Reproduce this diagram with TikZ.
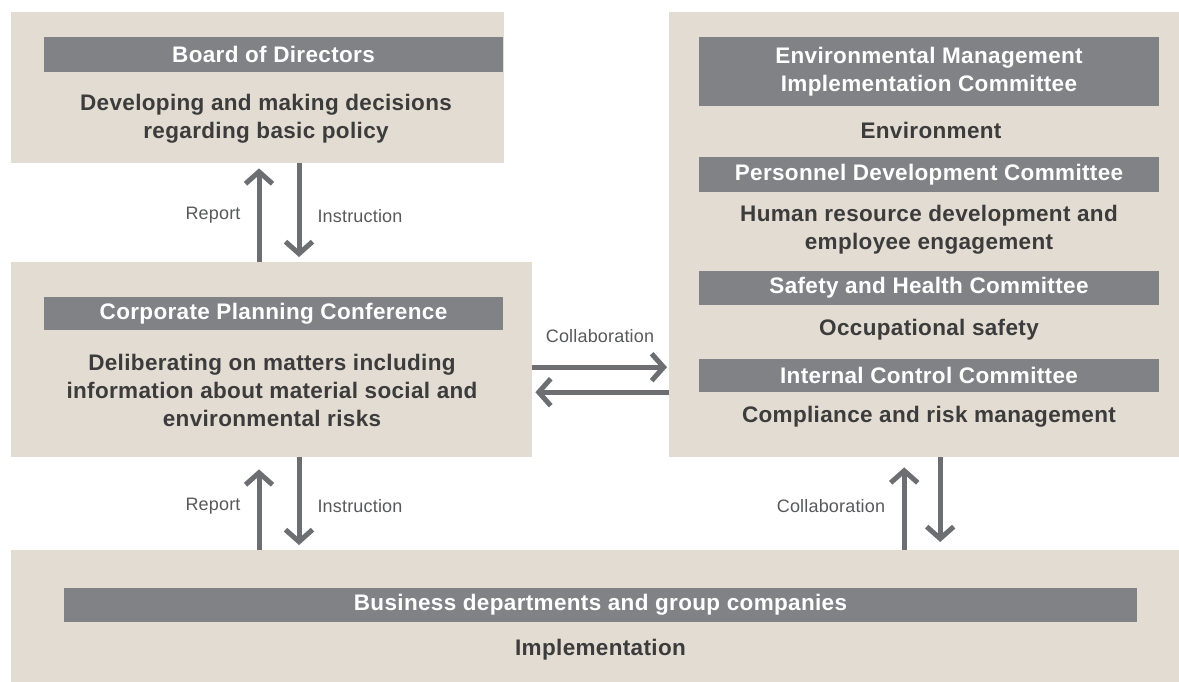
\documentclass[tikz,border=0pt]{standalone}
\usepackage{fontspec}
\setmainfont{Liberation Sans}
\newfontfamily\headfont[LetterSpace=1.5]{Liberation Sans}
\newfontfamily\labfont[LetterSpace=1]{Liberation Sans}
\usetikzlibrary{arrows.meta}
\definecolor{beige}{HTML}{E3DCD3}
\definecolor{barc}{HTML}{808285}
\definecolor{txtc}{HTML}{3C3C3C}
\definecolor{arrc}{HTML}{6D6E71}
\definecolor{labc}{HTML}{58595B}
\tikzset{
  box/.style={fill=beige, draw=none, inner sep=0pt, anchor=north west},
  bar/.style={fill=barc, draw=none, inner sep=0pt, text=white, align=center,
    font=\headfont\bfseries\fontsize{22.5}{28}\selectfont},
  txt/.style={text=txtc, align=center, inner sep=0pt,
    font=\headfont\bfseries\fontsize{22.5}{28}\selectfont},
  lab/.style={text=labc, inner sep=0pt, font=\labfont\fontsize{18}{21}\selectfont},
  arr/.style={draw=arrc, line width=5pt, -{Straight Barb[length=12pt,width=27pt]}}
}
\begin{document}
\begin{tikzpicture}[x=1pt,y=-1pt]
\useasboundingbox (0,0) rectangle (1179,682);
\fill[white] (0,0) rectangle (1179,682);
% boxes
\node[box, minimum width=493pt, minimum height=151pt] (board) at (11,12) {};
\node[box, minimum width=521pt, minimum height=195pt] (cp) at (11,262) {};
\node[box, minimum width=510pt, minimum height=445pt] (rb) at (669,12) {};
\node[box, minimum width=1168pt, minimum height=132pt] (bot) at (11,550) {};
% board
\node[bar, minimum width=459pt, minimum height=35pt] (boardh) at (273.5,54.5) {Board of Directors};
\node[txt] (boardt) at (266,119) {Developing and making decisions\\regarding basic policy};
% corporate planning
\node[bar, minimum width=459pt, minimum height=33pt] (cph) at (273.5,313.5) {Corporate Planning Conference};
\node[txt] (cpt) at (272,390) {Deliberating on matters including\\information about material social and\\environmental risks};
% right box
\node[bar, minimum width=460pt, minimum height=69pt] (emh) at (929,71.5) {Environmental Management\\Implementation Committee};
\node[txt] (emt) at (931,130) {Environment};
\node[bar, minimum width=460pt, minimum height=35pt] (pdh) at (929,174.5) {Personnel Development Committee};
\node[txt] (pdt) at (929,230) {Human resource development and\\employee engagement};
\node[bar, minimum width=460pt, minimum height=34pt] (shh) at (929,288) {Safety and Health Committee};
\node[txt] (sht) at (929,330) {Occupational safety};
\node[bar, minimum width=460pt, minimum height=33pt] (ich) at (929,375.5) {Internal Control Committee};
\node[txt] (ict) at (929,417) {Compliance and risk management};
% bottom
\node[bar, minimum width=1073pt, minimum height=34pt] (both) at (600.5,605) {Business departments and group companies};
\node[txt] (bott) at (600.5,650) {Implementation};
% arrows board <-> cp
\draw[arr, shorten >=5pt] ([xshift=248pt]cp.north west) -- ([xshift=248pt]board.south west);
\draw[arr, shorten >=5pt] ([xshift=288pt]board.south west) -- ([xshift=288pt]cp.north west);
\node[lab] (rep1) at (213,215) {Report};
\node[lab] (ins1) at (360,216) {Instruction};
% arrows cp <-> rb
\draw[arr, shorten >=2pt] ([yshift=-7.5pt]cp.east) -- ([yshift=-7.5pt]cp.east -| rb.west);
\draw[arr, shorten >=3pt] ([yshift=-32.5pt]cp.east -| rb.west) -- ([yshift=-32.5pt]cp.east);
\node[lab] (col1) at (600,336) {Collaboration};
% arrows cp <-> bottom
\draw[arr, shorten >=12pt] ([xshift=248pt]bot.north west) -- ([xshift=248pt]bot.north west |- cp.south);
\draw[arr, shorten >=5pt] ([xshift=288pt]cp.south west) -- ([xshift=288pt]cp.south west |- bot.north);
\node[lab] (rep2) at (213,506) {Report};
\node[lab] (ins2) at (360,506) {Instruction};
% arrows rb <-> bottom
\draw[arr, shorten >=10pt] ([xshift=-20pt]rb.south |- bot.north) -- ([xshift=-20pt]rb.south);
\draw[arr, shorten >=8pt] ([xshift=16pt]rb.south) -- ([xshift=16pt]rb.south |- bot.north);
\node[lab] (col2) at (831,506) {Collaboration};
\end{tikzpicture}
\end{document}
